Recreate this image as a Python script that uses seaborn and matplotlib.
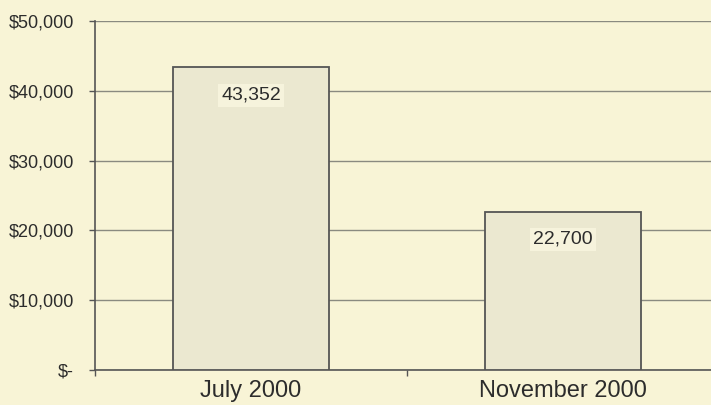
import pandas as pd
import seaborn as sns
import matplotlib.pyplot as plt
from matplotlib.ticker import FuncFormatter

# Data
periods = ['July 2000', 'November 2000']
amounts = [43352, 22700]
y_ticks = [0, 10000, 20000, 30000, 40000, 50000]

df = pd.DataFrame({'period': periods, 'amount': amounts})

bg = '#f8f4d6'
bar_fill = '#ebe8d0'
edge = '#555555'
text_col = '#2c2c2c'

sns.set_theme(style='white')
plt.rcParams['font.family'] = ['Liberation Sans', 'DejaVu Sans']

fig = plt.figure(figsize=(7.11, 4.05), dpi=100, facecolor=bg)
ax = fig.add_axes([95 / 711, 35 / 405, 616 / 711, 349 / 405])
ax.set_facecolor(bg)

sns.barplot(data=df, x='period', y='amount', color=bar_fill, width=0.5,
            edgecolor=edge, linewidth=1.3, saturation=1, ax=ax, zorder=3)

ax.set_yticks(y_ticks)
ax.yaxis.set_major_formatter(FuncFormatter(lambda v, p: '$-' if v == 0 else f'${v:,.0f}'))
ax.grid(axis='y', color='#8a8a80', linewidth=1, zorder=0)
ax.set_axisbelow(True)

# Excel-style ticks between categories
ax.set_xticks([-0.5, 0.5, 1.5], minor=True)
ax.set_ylim(0, 50000)
ax.set_xlim(-0.5, 1.474)
ax.tick_params(axis='x', which='major', length=0, pad=7, labelsize=17, labelcolor=text_col)
ax.tick_params(axis='x', which='minor', length=4.5, width=1, color=edge, bottom=True)
ax.tick_params(axis='y', length=4, width=1, color=edge, left=True, pad=11,
               labelsize=13, labelcolor=text_col)
ax.set_xlabel('')
ax.set_ylabel('')

for s in ['top', 'right']:
    ax.spines[s].set_visible(False)
for s in ['left', 'bottom']:
    ax.spines[s].set_color(edge)
    ax.spines[s].set_linewidth(1.2)

for i, v in enumerate(amounts):
    ax.annotate(f'{v:,}', xy=(i, v), xytext=(0, -20), textcoords='offset points',
                ha='center', va='center', fontsize=14, color=text_col, zorder=5,
                bbox=dict(boxstyle='square,pad=0.15', facecolor='#f6f3dc', edgecolor='none'))

fig.savefig('out.png', dpi=100, facecolor=bg)
